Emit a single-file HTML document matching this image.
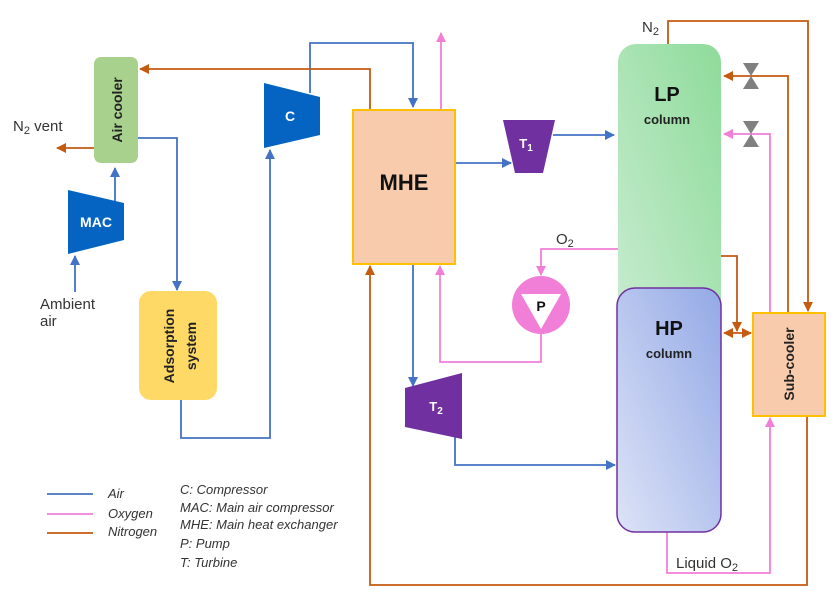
<!DOCTYPE html>
<html><head><meta charset="utf-8"><style>
html,body{margin:0;padding:0;background:#fff}
svg{display:block}
text{font-family:"Liberation Sans","DejaVu Sans",sans-serif}
</style></head><body>
<svg width="839" height="610" viewBox="0 0 839 610" xmlns="http://www.w3.org/2000/svg">
<defs>
<linearGradient id="lp" x1="0" y1="1" x2="1" y2="0"><stop offset="0" stop-color="#c8ecd0"/><stop offset="1" stop-color="#8edb9a"/></linearGradient>
<linearGradient id="hp" x1="0" y1="1" x2="1" y2="0"><stop offset="0" stop-color="#dde3f7"/><stop offset="1" stop-color="#93a9e6"/></linearGradient>
<marker id="ab" markerWidth="10" markerHeight="10" refX="9" refY="5" orient="auto" markerUnits="userSpaceOnUse"><path d="M0,0 L10,5 L0,10 z" fill="#4472c4"/></marker>
<marker id="ao" markerWidth="10" markerHeight="10" refX="9" refY="5" orient="auto" markerUnits="userSpaceOnUse"><path d="M0,0 L10,5 L0,10 z" fill="#c55a11"/></marker>
<marker id="ap" markerWidth="10" markerHeight="10" refX="9" refY="5" orient="auto" markerUnits="userSpaceOnUse"><path d="M0,0 L10,5 L0,10 z" fill="#f27fd7"/></marker>
<marker id="aor" markerWidth="10" markerHeight="10" refX="1" refY="5" orient="auto" markerUnits="userSpaceOnUse"><path d="M10,0 L0,5 L10,10 z" fill="#c55a11"/></marker>
</defs>
<g fill="none" stroke-width="1.8">
<!-- blue air -->
<path d="M75,292 V256" stroke="#4472c4" marker-end="url(#ab)"/>
<path d="M115,201 V168" stroke="#4472c4" marker-end="url(#ab)"/>
<path d="M138,138 H177 V290" stroke="#4472c4" marker-end="url(#ab)"/>
<path d="M181,400 V438 H270 V150" stroke="#4472c4" marker-end="url(#ab)"/>
<path d="M310,93 V43 H413 V107" stroke="#4472c4" marker-end="url(#ab)"/>
<path d="M455,163 H511" stroke="#4472c4" marker-end="url(#ab)"/>
<path d="M553,135 H614" stroke="#4472c4" marker-end="url(#ab)"/>
<path d="M413,264 V386" stroke="#4472c4" marker-end="url(#ab)"/>
<path d="M455,437 V465 H615" stroke="#4472c4" marker-end="url(#ab)"/>
<!-- orange nitrogen -->
<path d="M94,148 H57" stroke="#c55a11" marker-end="url(#ao)"/>
<path d="M370,109 V69 H140" stroke="#c55a11" marker-end="url(#ao)"/>
<path d="M668,44 V21 H808 V311" stroke="#c55a11" marker-end="url(#ao)"/>
<path d="M788,313 V76 H724" stroke="#c55a11" marker-end="url(#ao)"/>
<path d="M721,256 H737 V331" stroke="#c55a11" marker-end="url(#ao)"/>
<path d="M724,333 H751" stroke="#c55a11" marker-start="url(#aor)" marker-end="url(#ao)"/>
<path d="M807,416 V585 H370 V266" stroke="#c55a11" marker-end="url(#ao)"/>
<!-- pink oxygen -->
<path d="M441,109 V33" stroke="#f27fd7" marker-end="url(#ap)"/>
<path d="M770,313 V134 H724" stroke="#f27fd7" marker-end="url(#ap)"/>
<path d="M618,249 H541 V275" stroke="#f27fd7" marker-end="url(#ap)"/>
<path d="M541,334 V362 H440 V266" stroke="#f27fd7" marker-end="url(#ap)"/>
<path d="M667,532 V573 H770 V418" stroke="#f27fd7" marker-end="url(#ap)"/>
<!-- legend lines -->
<path d="M47,494 H93" stroke="#4472c4"/>
<path d="M47,514 H93" stroke="#f27fd7"/>
<path d="M47,533 H93" stroke="#c55a11"/>
</g>
<!-- valves -->
<path d="M743,63 H759 L743,89 H759 z" fill="#808080"/>
<path d="M743,121 H759 L743,147 H759 z" fill="#808080"/>
<!-- components -->
<rect x="94" y="57" width="44" height="106" rx="7" fill="#a9d18e"/>
<text transform="translate(122,110) rotate(-90)" text-anchor="middle" font-size="14" font-weight="bold" fill="#222">Air cooler</text>
<polygon points="68,190 124,203 124,240 68,254" fill="#0563c1"/>
<text x="96" y="227" text-anchor="middle" font-size="14" font-weight="bold" fill="#fff">MAC</text>
<rect x="139" y="291" width="78" height="109" rx="12" fill="#ffd966"/>
<text transform="translate(174,346) rotate(-90)" text-anchor="middle" font-size="14" font-weight="bold" fill="#222">Adsorption</text>
<text transform="translate(196,346) rotate(-90)" text-anchor="middle" font-size="14" font-weight="bold" fill="#222">system</text>
<polygon points="264,83 320,97 320,135 264,148" fill="#0563c1"/>
<text x="290" y="121" text-anchor="middle" font-size="14" font-weight="bold" fill="#fff">C</text>
<rect x="353" y="110" width="102" height="154" fill="#f8cbad" stroke="#ffc000" stroke-width="2"/>
<text x="404" y="190" text-anchor="middle" font-size="22" font-weight="bold" fill="#111">MHE</text>
<polygon points="503,120 555,120 543,173 515,173" fill="#7030a0"/>
<text x="526" y="148" text-anchor="middle" font-size="13" font-weight="bold" fill="#fff">T<tspan font-size="10" dy="3">1</tspan></text>
<polygon points="405,388 462,373 462,439 405,427" fill="#7030a0"/>
<text x="436" y="411" text-anchor="middle" font-size="13" font-weight="bold" fill="#fff">T<tspan font-size="10" dy="3">2</tspan></text>
<circle cx="541" cy="305" r="29" fill="#f27fd7"/>
<polygon points="521,294 561,294 541,329" fill="#fff"/>
<text x="541" y="311" text-anchor="middle" font-size="14" font-weight="bold" fill="#111">P</text>
<rect x="618" y="44" width="103" height="290" rx="18" fill="url(#lp)"/>
<rect x="617" y="288" width="104" height="244" rx="18" fill="url(#hp)" stroke="#7030a0" stroke-width="1.5"/>
<text x="667" y="101" text-anchor="middle" font-size="20" font-weight="bold" fill="#111">LP</text>
<text x="667" y="124" text-anchor="middle" font-size="13" font-weight="bold" fill="#222">column</text>
<text x="669" y="335" text-anchor="middle" font-size="20" font-weight="bold" fill="#111">HP</text>
<text x="669" y="358" text-anchor="middle" font-size="13" font-weight="bold" fill="#222">column</text>
<rect x="753" y="313" width="72" height="103" fill="#f8cbad" stroke="#ffc000" stroke-width="2"/>
<text transform="translate(794,364) rotate(-90)" text-anchor="middle" font-size="14" font-weight="bold" fill="#222">Sub-cooler</text>
<!-- labels -->
<g font-size="15" fill="#333">
<text x="13" y="131">N<tspan font-size="11" dy="3">2</tspan><tspan dy="-3"> vent</tspan></text>
<text x="40" y="309">Ambient</text>
<text x="40" y="326">air</text>
<text x="642" y="32">N<tspan font-size="11" dy="3">2</tspan></text>
<text x="556" y="244">O<tspan font-size="11" dy="3">2</tspan></text>
<text x="676" y="568">Liquid O<tspan font-size="11" dy="3">2</tspan></text>
</g>
<g font-size="13" font-style="italic" fill="#333">
<text x="108" y="498">Air</text>
<text x="108" y="518">Oxygen</text>
<text x="108" y="536">Nitrogen</text>
<text x="180" y="494">C: Compressor</text>
<text x="180" y="512">MAC: Main air compressor</text>
<text x="180" y="529">MHE: Main heat exchanger</text>
<text x="180" y="548">P: Pump</text>
<text x="180" y="567">T: Turbine</text>
</g>
</svg>
</body></html>
